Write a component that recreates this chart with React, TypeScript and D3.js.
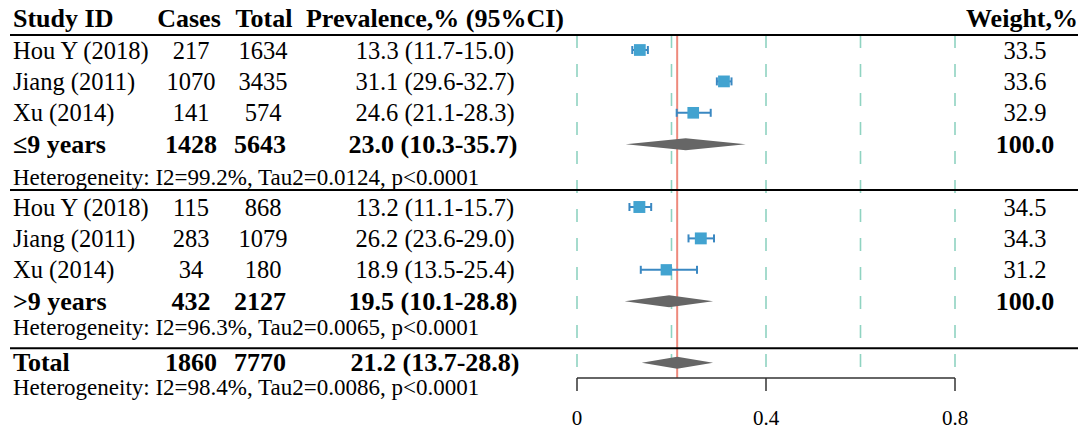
import React from "react";
import * as d3 from "d3";

// ---------- data ----------
const studyNames = ["Hou Y (2018)", "Jiang (2011)", "Xu (2014)", "Hou Y (2018)", "Jiang (2011)", "Xu (2014)"];
const studyGroup = [0, 0, 0, 1, 1, 1];
const studyCases = [217, 1070, 141, 115, 283, 34];
const studyTotals = [1634, 3435, 574, 868, 1079, 180];
const studyEst = [0.133, 0.311, 0.246, 0.132, 0.262, 0.189];
const studyLower = [0.117, 0.296, 0.211, 0.111, 0.236, 0.135];
const studyUpper = [0.150, 0.327, 0.283, 0.157, 0.290, 0.254];
const studyWeights = [33.5, 33.6, 32.9, 34.5, 34.3, 31.2];

const subNames = ["≤9 years", ">9 years"];
const subCases = [1428, 432];
const subTotals = [5643, 2127];
const subEst = [0.230, 0.195];
const subLower = [0.103, 0.101];
const subUpper = [0.357, 0.288];
const subWeights = [100.0, 100.0];
const subHet = [
  "Heterogeneity: I2=99.2%, Tau2=0.0124, p<0.0001",
  "Heterogeneity: I2=96.3%, Tau2=0.0065, p<0.0001",
];

const totalName = "Total";
const totalCases = 1860;
const totalN = 7770;
const totalEst = 0.212;
const totalLower = 0.137;
const totalUpper = 0.288;
const totalHet = "Heterogeneity: I2=98.4%, Tau2=0.0086, p<0.0001";

const headers = ["Study ID", "Cases", "Total", "Prevalence,% (95%CI)", "Weight,%"];
const axisTicks = [0, 0.4, 0.8];
const gridTicks = [0, 0.2, 0.4, 0.6, 0.8];

// ---------- layout ----------
const W = 1090;
const H = 430;
const FONT = "'Liberation Serif', 'Times New Roman', serif";
const colStudy = 13;
const colCases = 191;
const colTotal = 263;
const colPrev = 435;
const colWeight = 1025;
const lineLeft = 10;
const lineRight = 1078;

const x = d3.scaleLinear().domain([0, 0.8]).range([577, 955]);
const y = d3.scaleLinear().domain([0, 1]).range([50, 81.4]);
const wSize = d3.scaleSqrt().domain([0, 35]).range([0, 12]);

const fmtP = (e: number, l: number, u: number) =>
  `${(e * 100).toFixed(1)} (${(l * 100).toFixed(1)}-${(u * 100).toFixed(1)})`;

// slots per row
const studySlot = (i: number) => (studyGroup[i] === 0 ? i : i + 2);
const subSlot = [3, 8];
const hetSlot = [4.06, 8.84];
const sepSlot = [4.46, 9.5];
const totalSlot = 9.96;
const totalHetSlot = 10.76;
const axisY = 378;
const gridTop = 35;

const diamond = (lo: number, e: number, hi: number, cy: number, h: number) => {
  const path = d3.path();
  path.moveTo(x(lo), cy);
  path.lineTo(x(e), cy - h);
  path.lineTo(x(hi), cy);
  path.lineTo(x(e), cy + h);
  path.closePath();
  return path.toString();
};

export default function App() {
  const textBase = { fontFamily: FONT, dominantBaseline: "central" as const };
  const rowFs = 24.5;
  const boldFs = 26;
  const hetFs = 23;
  const blue = "#42a3d0";
  const ciBlue = "#3a88c2";
  return (
    <svg
      width={W}
      height={H}
      style={{ position: "absolute", left: 0, top: 0, background: "#fff" }}
    >
      <rect x={0} y={0} width={W} height={H} fill="#fff" />
      {/* grid */}
      {gridTicks.map((t) => (
        <line
          key={"g" + t}
          x1={x(t)}
          x2={x(t)}
          y1={gridTop}
          y2={axisY}
          stroke="#8fd3c1"
          strokeWidth={1.6}
          strokeDasharray="13,16"
        />
      ))}
      {/* reference line */}
      <line x1={x(totalEst)} x2={x(totalEst)} y1={gridTop} y2={axisY} stroke="#ee8a7c" strokeWidth={2} />

      {/* header */}
      <g style={{ fontFamily: FONT, fontWeight: "bold", fontSize: boldFs }}>
        <text x={colStudy} y={27}>{headers[0]}</text>
        <text x={colCases - 2} y={27} textAnchor="middle">{headers[1]}</text>
        <text x={colTotal + 1} y={27} textAnchor="middle">{headers[2]}</text>
        <text x={colPrev} y={27} textAnchor="middle">{headers[3]}</text>
        <text x={lineRight} y={27} textAnchor="end">{headers[4]}</text>
      </g>
      <line x1={lineLeft} x2={lineRight} y1={35} y2={35} stroke="#000" strokeWidth={2} />

      {/* studies */}
      {studyNames.map((n, i) => {
        const cy = y(studySlot(i));
        const s = wSize(studyWeights[i]);
        return (
          <g key={"s" + i}>
            <text {...textBase} x={colStudy} y={cy} fontSize={rowFs}>{n}</text>
            <text {...textBase} x={colCases} y={cy} fontSize={rowFs} textAnchor="middle">{studyCases[i]}</text>
            <text {...textBase} x={colTotal} y={cy} fontSize={rowFs} textAnchor="middle">{studyTotals[i]}</text>
            <text {...textBase} x={colPrev} y={cy} fontSize={rowFs} textAnchor="middle">
              {fmtP(studyEst[i], studyLower[i], studyUpper[i])}
            </text>
            <text {...textBase} x={colWeight} y={cy} fontSize={rowFs} textAnchor="middle">{studyWeights[i].toFixed(1)}</text>
            <line x1={x(studyLower[i])} x2={x(studyUpper[i])} y1={cy} y2={cy} stroke={ciBlue} strokeWidth={2} />
            <line x1={x(studyLower[i])} x2={x(studyLower[i])} y1={cy - 4} y2={cy + 4} stroke={ciBlue} strokeWidth={2} />
            <line x1={x(studyUpper[i])} x2={x(studyUpper[i])} y1={cy - 4} y2={cy + 4} stroke={ciBlue} strokeWidth={2} />
            <rect x={x(studyEst[i]) - s / 2} y={cy - s / 2} width={s} height={s} fill={blue} />
          </g>
        );
      })}

      {/* subgroups */}
      {subNames.map((n, g) => {
        const cy = y(subSlot[g]);
        const hy = y(hetSlot[g]);
        const ly = y(sepSlot[g]);
        return (
          <g key={"sub" + g}>
            <g style={{ fontWeight: "bold" }}>
              <text {...textBase} x={colStudy} y={cy} fontSize={boldFs}>{n}</text>
              <text {...textBase} x={colCases} y={cy} fontSize={boldFs} textAnchor="middle">{subCases[g]}</text>
              <text {...textBase} x={colTotal - 3} y={cy} fontSize={boldFs} textAnchor="middle">{subTotals[g]}</text>
              <text {...textBase} x={colPrev - 2} y={cy} fontSize={boldFs} textAnchor="middle">
                {fmtP(subEst[g], subLower[g], subUpper[g])}
              </text>
              <text {...textBase} x={colWeight} y={cy} fontSize={boldFs} textAnchor="middle">{subWeights[g].toFixed(1)}</text>
            </g>
            <path d={diamond(subLower[g], subEst[g], subUpper[g], cy, 6)} fill="#666" />
            <text {...textBase} x={colStudy} y={hy} fontSize={hetFs}>{subHet[g]}</text>
            <line x1={lineLeft} x2={lineRight} y1={ly} y2={ly} stroke="#000" strokeWidth={2} />
          </g>
        );
      })}

      {/* total */}
      {(() => {
        const cy = y(totalSlot);
        const hy = y(totalHetSlot);
        return (
          <g>
            <g style={{ fontWeight: "bold" }}>
              <text {...textBase} x={colStudy} y={cy} fontSize={boldFs}>{totalName}</text>
              <text {...textBase} x={colCases} y={cy} fontSize={boldFs} textAnchor="middle">{totalCases}</text>
              <text {...textBase} x={colTotal - 3} y={cy} fontSize={boldFs} textAnchor="middle">{totalN}</text>
              <text {...textBase} x={colPrev} y={cy} fontSize={boldFs} textAnchor="middle">
                {fmtP(totalEst, totalLower, totalUpper)}
              </text>
            </g>
            <path d={diamond(totalLower, totalEst, totalUpper, cy, 6)} fill="#666" />
            <text {...textBase} x={colStudy} y={hy} fontSize={hetFs}>{totalHet}</text>
          </g>
        );
      })()}

      {/* axis */}
      <line x1={x(0)} x2={x(0.8)} y1={axisY} y2={axisY} stroke="#333" strokeWidth={1.5} />
      {axisTicks.map((t) => (
        <g key={"t" + t}>
          <line x1={x(t)} x2={x(t)} y1={axisY} y2={axisY + 13} stroke="#333" strokeWidth={1.5} />
          <text {...textBase} x={x(t)} y={418} fontSize={21} textAnchor="middle">
            {d3.format("~g")(t)}
          </text>
        </g>
      ))}
    </svg>
  );
}
